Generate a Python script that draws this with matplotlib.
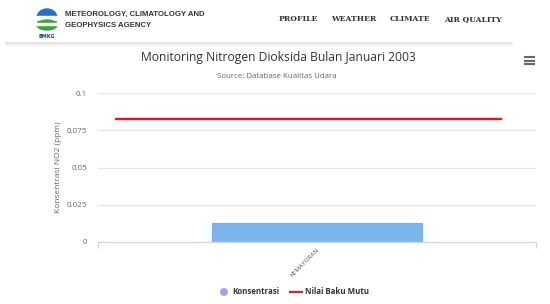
import matplotlib
matplotlib.use("Agg")
import matplotlib.pyplot as plt
from matplotlib.patches import Ellipse, Rectangle

# data
categories = ["KEMAYORAN"]
konsentrasi = [0.0125]
baku_mutu = 0.0826
y_ticks = [0, 0.025, 0.05, 0.075, 0.1]
y_labels = ["0", "0.025", "0.05", "0.075", "0.1"]
nav_items = ["PROFILE", "WEATHER", "CLIMATE", "AIR QUALITY"]
nav_x = [279, 331, 390, 444]

W, H = 550, 304
fig = plt.figure(figsize=(W / 100, H / 100), dpi=100)
fig.patch.set_facecolor("white")

# ---- header / page overlay in pixel coords ----
hdr = fig.add_axes([0, 0, 1, 1], zorder=0)
hdr.set_xlim(0, W)
hdr.set_ylim(H, 0)
hdr.axis("off")

# logo (rough)
hdr.add_patch(Ellipse((47, 18), 20, 18, color="#2a6fc4"))
hdr.add_patch(Rectangle((36, 16), 22, 4, color="white"))
hdr.add_patch(Ellipse((47, 25), 20, 10, color="#3aa635"))
hdr.add_patch(Rectangle((36, 23), 22, 1.5, color="white"))
hdr.text(47, 36, "BMKG", fontsize=3.5, ha="center", va="center",
         color="#1d3f7a", fontweight="bold", family="DejaVu Sans")

hdr.text(65, 14.5, "METEOROLOGY, CLIMATOLOGY AND", fontsize=5.6,
         fontweight="bold", color="#333333", va="center", family="Liberation Sans")
hdr.text(65, 25.5, "GEOPHYSICS AGENCY", fontsize=5.6,
         fontweight="bold", color="#333333", va="center", family="Liberation Sans")
for name, x in zip(nav_items, nav_x):
    hdr.text(x, 19, name, fontsize=5.5, fontweight="bold", color="#333333",
             va="center", family="DejaVu Serif")

# separator shadow
hdr.plot([5, 512], [43, 43], color="#e4e4e4", lw=2.2, solid_capstyle="butt")
hdr.plot([5, 512], [44.5, 44.5], color="#f2f2f2", lw=1.2, solid_capstyle="butt")

# title / subtitle
hdr.text(278, 57, "Monitoring Nitrogen Dioksida Bulan Januari 2003", fontsize=8.7,
         color="#333333", ha="center", va="center", family="Open Sans")
hdr.text(277, 76, "Source: Database Kualitas Udara", fontsize=5.7,
         color="#666666", ha="center", va="center", family="Open Sans")

# hamburger menu
for yy in (57, 60.5, 64):
    hdr.plot([524, 535], [yy, yy], color="#666666", lw=1.5, solid_capstyle="butt")

# y label
hdr.text(58, 167, "Konsentrasi NO2 (ppm)", fontsize=6.0, color="#666666",
         rotation=90, ha="center", va="center", family="Open Sans")

# legend
hdr.add_patch(Ellipse((224, 292), 6.5, 6.5, color="#9fa6e8"))
hdr.text(232, 292, "Konsentrasi", fontsize=5.7, fontweight="bold",
         color="#333333", va="center", family="Open Sans")
hdr.plot([290, 302], [292, 292], color="#e02020", lw=1.6)
hdr.text(305, 292, "Nilai Baku Mutu", fontsize=5.7, fontweight="bold",
         color="#333333", va="center", family="Open Sans")

# ---- chart ----
left, right, top, bottom = 98, 536, 93, 242
ax = fig.add_axes([left / W, 1 - bottom / H, (right - left) / W, (bottom - top) / H],
                  zorder=1)
ax.patch.set_alpha(0)
xpos = list(range(len(categories)))
ax.set_xlim(-0.5, len(categories) - 0.5)
ax.set_ylim(0, 0.1)

for t in y_ticks[1:]:
    ax.axhline(t, color="#e6e6e6", lw=0.9, zorder=0)

# hover halo + bar
ax.bar(xpos, [v + 0.0012 for v in konsentrasi], width=0.51, color="#f3feff", zorder=1)
ax.bar(xpos, konsentrasi, width=0.48, color="#7cb5ec", edgecolor="#8fa4e8",
       linewidth=0.8, zorder=2)

# baku mutu line
ax.plot([-0.46, 0.42], [baku_mutu, baku_mutu], color="#e8141c", lw=1.7, zorder=3)

for s in ["top", "right", "left"]:
    ax.spines[s].set_visible(False)
ax.spines["bottom"].set_color("#ccd6eb")
ax.spines["bottom"].set_linewidth(0.9)

ax.set_yticks(y_ticks)
ax.set_yticklabels(y_labels, fontsize=5.8, color="#666666", family="Open Sans")
ax.tick_params(axis="y", length=0, pad=8)

ax.set_xticks([-0.5, 0.5], minor=True)
ax.tick_params(axis="x", which="minor", length=4, color="#ccd6eb", width=0.9)
ax.set_xticks(xpos)
ax.set_xticklabels(categories, rotation=45, ha="right", rotation_mode="anchor",
                   fontsize=4.6, color="#555555", family="Open Sans")
ax.tick_params(axis="x", which="major", length=0, pad=4)

fig.savefig("out.png", dpi=100, facecolor="white")
